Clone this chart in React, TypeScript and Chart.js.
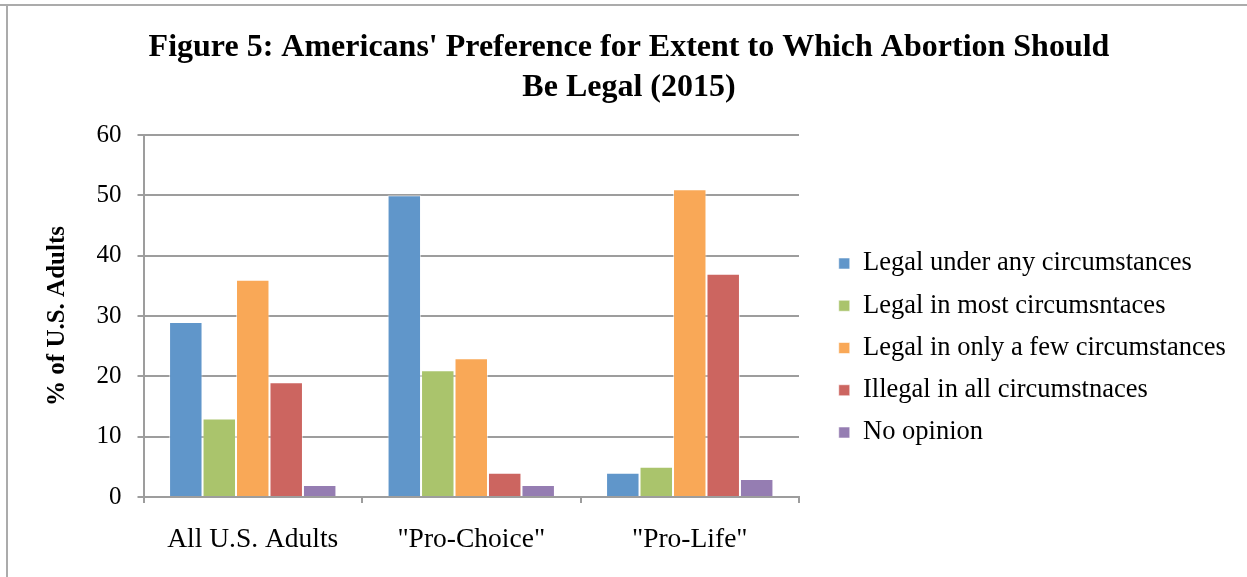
import React, { useEffect, useRef } from "react";
import { Chart, registerables } from "chart.js";

Chart.register(...registerables);

const categories = ["All U.S. Adults", '"Pro-Choice"', '"Pro-Life"'];
const seriesNames = [
  "Legal under any circumstances",
  "Legal in most circumsntaces",
  "Legal in only a few circumstances",
  "Illegal in all circumstnaces",
  "No opinion",
];
const legalAny = [29, 50, 4];
const legalMost = [13, 21, 5];
const legalFew = [36, 23, 51];
const illegalAll = [19, 4, 37];
const noOpinion = [2, 2, 3];
const seriesColors = ["#6096CA", "#AAC46C", "#F9A857", "#CC6560", "#957DB2"];
const titleLines = [
  "Figure 5: Americans' Preference for Extent to Which Abortion Should",
  "Be Legal (2015)",
];
const yTitle = "% of U.S. Adults";

const FONT = "'Liberation Serif', 'Times New Roman', serif";
const GRID = "#9d9d9d";
const LEGEND_W = 414;

const legendWidthPlugin = {
  id: "legendWidth",
  beforeLayout(chart: any) {
    const lg = chart.legend;
    if (lg && !lg.__patched) {
      const orig = lg.update.bind(lg);
      lg.update = (w: number, h: number, m: any) => {
        orig(2000, h, m);
        lg.width = LEGEND_W;
        lg.right = lg.left + LEGEND_W;
      };
      lg.__patched = true;
    }
  },
};

export default function App() {
  const ref = useRef<HTMLCanvasElement | null>(null);

  useEffect(() => {
    if (!ref.current) return;
    const values = [legalAny, legalMost, legalFew, illegalAll, noOpinion];
    const chart = new Chart(ref.current, {
      type: "bar",
      data: {
        labels: categories,
        datasets: values.map((v, i) => ({
          label: seriesNames[i],
          data: v,
          backgroundColor: seriesColors[i],
          borderColor: "rgba(255,255,255,0.55)",
          borderWidth: 1,
          categoryPercentage: 0.766,
          barPercentage: 1,
        })),
      },
      plugins: [legendWidthPlugin],
      options: {
        animation: false,
        responsive: false,
        devicePixelRatio: 1,
        layout: { padding: { left: 21, right: 10, top: 0, bottom: 16 } },
        plugins: {
          tooltip: { enabled: false },
          title: {
            display: true,
            text: titleLines,
            color: "#000",
            font: { family: FONT, size: 32, weight: "bold", lineHeight: "40px" },
            padding: { top: 28, bottom: 27 },
          },
          legend: {
            position: "right",
            align: "center",
            title: {
              display: true,
              text: "",
              font: { family: FONT, size: 10, lineHeight: "15px" },
              padding: { top: 0, bottom: 120 },
            },
            labels: {
              color: "#000",
              font: { family: FONT, size: 26.5 },
              boxWidth: 11,
              boxHeight: 11,
              padding: 15.75,
            },
          },
        },
        scales: {
          x: {
            grid: {
              display: true,
              drawOnChartArea: false,
              drawTicks: true,
              tickLength: 6,
              color: GRID,
              lineWidth: 2,
            },
            border: { display: true, color: GRID, width: 2 },
            ticks: {
              color: "#000",
              font: { family: FONT, size: 27.5 },
              padding: 20,
              maxRotation: 0,
            },
            afterFit: (s: any) => {
              s.height = 64;
            },
          },
          y: {
            min: 0,
            max: 60,
            ticks: {
              stepSize: 10,
              color: "#000",
              font: { family: FONT, size: 25 },
              padding: 16,
            },
            grid: { color: GRID, lineWidth: 2, tickLength: 6 },
            border: { display: true, color: GRID, width: 2 },
            title: {
              display: true,
              text: yTitle,
              color: "#000",
              font: { family: FONT, size: 25, weight: "bold" },
              padding: { top: 22, bottom: 0 },
            },
            afterFit: (s: any) => {
              s.width = 122.5;
            },
          },
          gap: {
            type: "linear",
            position: "right",
            display: true,
            grid: { display: false },
            border: { display: false },
            ticks: { display: false },
            afterFit: (s: any) => {
              s.width = 24;
            },
          },
        },
      },
    } as any);
    return () => chart.destroy();
  }, []);

  return (
    <div style={{ position: "fixed", left: 0, top: 0, width: 1247, height: 577, background: "#fff" }}>
      <div style={{ position: "absolute", left: 0, top: 4, width: 1247, height: 2, background: "#ababab" }} />
      <div style={{ position: "absolute", left: 6, top: 4, width: 2, height: 573, background: "#ababab" }} />
      <canvas ref={ref} width={1247} height={577} style={{ position: "absolute", left: 0, top: 0 }} />
    </div>
  );
}
